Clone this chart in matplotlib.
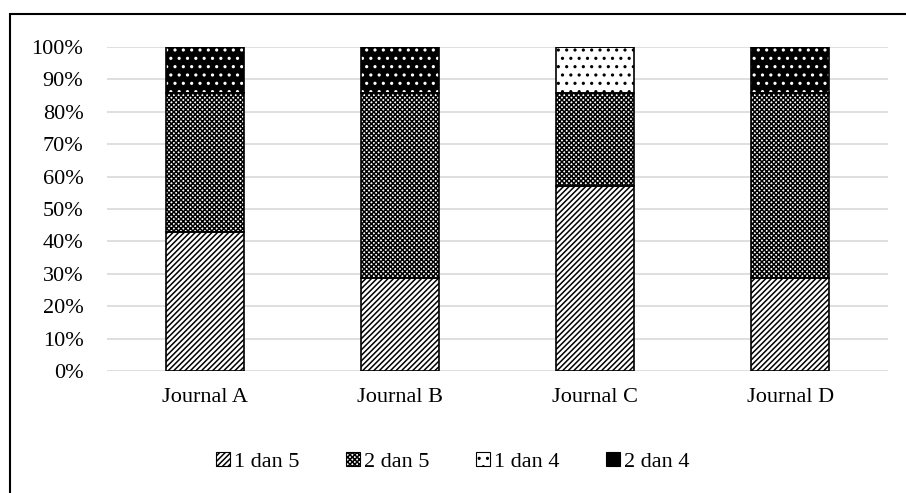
import matplotlib
matplotlib.use("Agg")
import matplotlib.pyplot as plt
from matplotlib.patches import Patch, Rectangle
from matplotlib.ticker import PercentFormatter
import numpy as np

plt.rcParams['font.family'] = ['Liberation Serif', 'DejaVu Serif']
plt.rcParams['hatch.linewidth'] = 1.1

categories = ["Journal A", "Journal B", "Journal C", "Journal D"]
series_names = ["1 dan 5", "2 dan 5", "1 dan 4", "2 dan 4"]
s_1dan5 = [3, 2, 4, 2]
s_2dan5 = [3, 4, 2, 4]
s_1dan4 = [0, 0, 1, 0]
s_2dan4 = [1, 1, 0, 1]
totals = [7, 7, 7, 7]

series = [s_1dan5, s_2dan5, s_1dan4, s_2dan4]
# (facecolor, hatchcolor, hatch)
styles = [("white", "black", "//////"),
          ("white", "black", "xxxxxxx"),
          ("white", "black", ".."),
          ("black", "white", "..")]

fig = plt.figure(figsize=(9.06, 4.93), dpi=100)
ax = fig.add_axes([107/906, 1-371/493, (888-107)/906, (371-47)/493])

x = np.arange(len(categories))
bottom = np.zeros(len(categories))
width = 0.4
for vals, (fc, hc, h) in zip(series, styles):
    frac = np.array(vals) / np.array(totals)
    ax.bar(x, frac, width, bottom=bottom, color=fc, edgecolor=hc, hatch=h,
           linewidth=0, zorder=2)
    ax.bar(x, frac, width, bottom=bottom, fill=False, edgecolor="black",
           linewidth=1.2, zorder=3)
    bottom += frac

ax.set_xlim(-0.5, 3.5)
ax.set_ylim(0, 1)
ax.set_yticks(np.arange(0, 1.01, 0.1))
ax.yaxis.set_major_formatter(PercentFormatter(1.0, decimals=0))
ax.set_xticks(x)
ax.set_xticklabels(categories)
ax.tick_params(axis='both', length=0, labelsize=16)
ax.tick_params(axis='x', pad=12)
ax.tick_params(axis='y', pad=17)
ax.grid(axis='y', color='#d9d9d9', linewidth=1.2, zorder=0)
ax.set_axisbelow(True)
for s in ax.spines.values():
    s.set_visible(False)

handles = [Patch(facecolor=fc, edgecolor=hc, hatch=h, linewidth=0.8)
           for (fc, hc, h) in styles]
handles[3] = Patch(facecolor="black", edgecolor="black", linewidth=0.8)
fig.legend(handles, series_names, loc='center', bbox_to_anchor=(0.5, 1-462/493),
           ncol=4, frameon=False, fontsize=16, handlelength=0.6,
           handleheight=0.6, handletextpad=0.2, columnspacing=2.1)

fig.patches.append(Rectangle((10/906, -0.1), 1.2, 1.1 - 14/493,
                             transform=fig.transFigure, fill=False,
                             edgecolor='black', linewidth=1.5))

fig.savefig("out.png", dpi=100)
